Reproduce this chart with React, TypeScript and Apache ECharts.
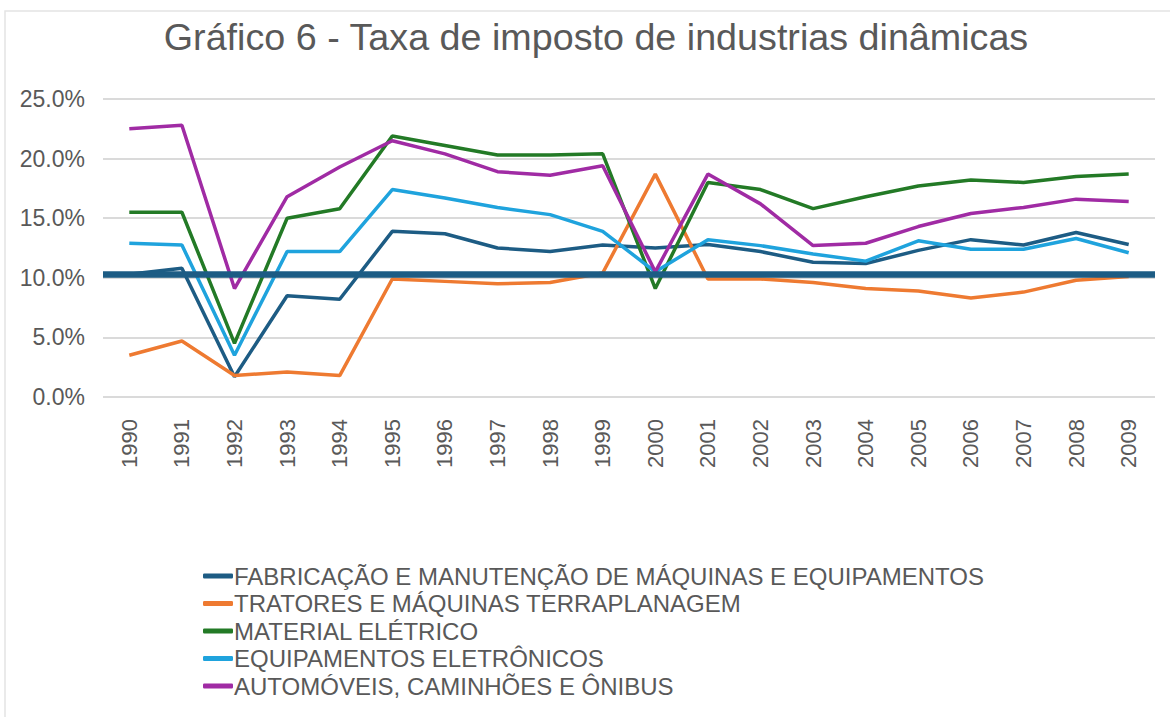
import React, { useEffect, useRef } from "react";
import * as echarts from "echarts";

const years = ["1990","1991","1992","1993","1994","1995","1996","1997","1998","1999","2000","2001","2002","2003","2004","2005","2006","2007","2008","2009"];

const fabricacao = [10.3, 10.8, 1.7, 8.5, 8.2, 13.9, 13.7, 12.5, 12.2, 12.75, 12.5, 12.8, 12.2, 11.3, 11.2, 12.3, 13.2, 12.75, 13.8, 12.8];
const tratores = [3.5, 4.7, 1.8, 2.1, 1.8, 9.9, 9.7, 9.5, 9.6, 10.4, 18.7, 9.9, 9.9, 9.6, 9.1, 8.9, 8.3, 8.8, 9.8, 10.1];
const materialEletrico = [15.5, 15.5, 4.5, 15.0, 15.8, 21.9, 21.1, 20.3, 20.3, 20.4, 9.1, 18.0, 17.4, 15.8, 16.8, 17.7, 18.2, 18.0, 18.5, 18.7];
const eletronicos = [12.9, 12.75, 3.5, 12.2, 12.2, 17.4, 16.7, 15.9, 15.3, 13.9, 10.5, 13.2, 12.7, 12.0, 11.4, 13.1, 12.4, 12.4, 13.3, 12.1];
const automoveis = [22.5, 22.8, 9.1, 16.8, 19.3, 21.5, 20.4, 18.9, 18.6, 19.4, 10.5, 18.7, 16.2, 12.7, 12.9, 14.3, 15.4, 15.9, 16.6, 16.4];
const referenceLevel = 10.3;

const seriesNames = [
  "FABRICAÇÃO E MANUTENÇÃO DE MÁQUINAS E EQUIPAMENTOS",
  "TRATORES E MÁQUINAS TERRAPLANAGEM",
  "MATERIAL ELÉTRICO",
  "EQUIPAMENTOS ELETRÔNICOS",
  "AUTOMÓVEIS, CAMINHÕES E ÔNIBUS",
];
const seriesData = [fabricacao, tratores, materialEletrico, eletronicos, automoveis];
const colors = ["#1D5C84", "#EE7A31", "#237A26", "#1FA3DD", "#A02BA4"];

export default function App() {
  const ref = useRef<HTMLDivElement>(null);
  useEffect(() => {
    document.body.style.margin = "0";
    const chart = echarts.init(ref.current!, null, { renderer: "svg" });
    const font = "'Liberation Sans', Arial, sans-serif";
    const series: any[] = seriesData.map((d, i) => ({
      name: seriesNames[i],
      type: "line",
      data: d,
      symbol: "none",
      lineStyle: { width: 3.5, color: colors[i] },
      itemStyle: { color: colors[i] },
      z: 3 + i,
    }));
    series[0].markLine = {
      silent: true,
      symbol: "none",
      label: { show: false },
      lineStyle: { type: "solid", width: 6.5, color: colors[0] },
      data: [{ yAxis: referenceLevel }],
      z: 10,
    };
    chart.setOption({
      animation: false,
      backgroundColor: "#ffffff",
      color: colors,
      title: {
        text: "Gráfico 6 - Taxa de imposto de industrias dinâmicas",
        left: 591,
        textAlign: "center",
        top: 13,
        textStyle: { fontFamily: font, fontSize: 37.7, fontWeight: "normal", color: "#595959" },
      },
      graphic: [
        {
          type: "rect",
          shape: { x: 5, y: 11, width: 1180, height: 720 },
          style: { fill: "none", stroke: "#E4E4E4", lineWidth: 1.5 },
          silent: true,
        },
      ],
      grid: { left: 103, right: 15, top: 99, bottom: 320, containLabel: false },
      xAxis: {
        type: "category",
        data: years,
        boundaryGap: true,
        axisLine: { show: false },
        axisTick: { show: false },
        axisLabel: { rotate: 90, margin: 22, fontFamily: font, fontSize: 22, color: "#595959" },
      },
      yAxis: {
        type: "value",
        min: 0,
        max: 25,
        interval: 5,
        axisLine: { show: false },
        axisTick: { show: false },
        splitLine: { lineStyle: { color: "#DADADA", width: 2 } },
        axisLabel: {
          margin: 18,
          fontFamily: font,
          fontSize: 23,
          color: "#595959",
          formatter: (v: number) => v.toFixed(1) + "%",
        },
      },
      legend: {
        orient: "vertical",
        left: 198,
        top: 559,
        itemGap: 3.5,
        itemWidth: 30,
        itemHeight: 5,
        icon: "roundRect",
        textStyle: { fontFamily: font, fontSize: 24, color: "#595959", padding: [0, 0, 0, -4] },
        data: seriesNames,
      },
      series,
    });
    return () => chart.dispose();
  }, []);
  return <div ref={ref} style={{ width: 1170, height: 717 }} />;
}
